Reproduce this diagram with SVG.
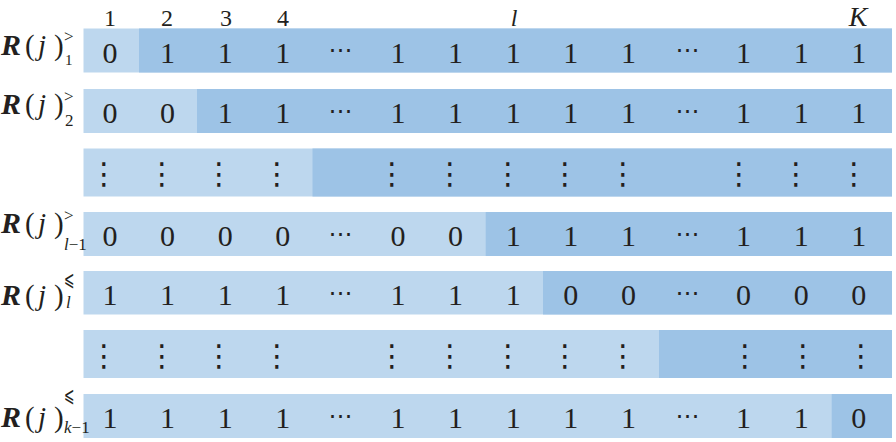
<svg xmlns="http://www.w3.org/2000/svg" width="896" height="442" viewBox="0 0 896 442">
<style>
.lt{fill:#bdd7ee}
.dk{fill:#9dc3e6}
.d{font-family:"Liberation Serif","DejaVu Serif",serif;font-size:30px;fill:#231f20;text-anchor:middle}
.h{font-family:"Liberation Serif","DejaVu Serif",serif;font-size:24px;fill:#231f20;text-anchor:middle}
.el{font-family:"DejaVu Sans",sans-serif;font-size:24px;fill:#231f20;text-anchor:middle}
.vd{font-family:"DejaVu Sans",sans-serif;font-size:30px;fill:#231f20;text-anchor:middle}
.lb{font-family:"Liberation Serif","DejaVu Serif",serif;font-size:29px;fill:#231f20}
.sp{font-family:"Liberation Serif","DejaVu Serif",serif;font-size:17px;fill:#231f20}
.le{font-family:"DejaVu Sans","DejaVu Serif",sans-serif;font-size:21px;fill:#231f20}
.i{font-style:italic}
.b{font-weight:bold;font-style:italic;font-size:30px}
</style>
<g id="header">
<text class="h" x="110" y="25.5">1</text>
<text class="h" x="167" y="25.5">2</text>
<text class="h" x="226" y="25.5">3</text>
<text class="h" x="283" y="25.5">4</text>
<text class="h i" x="514" y="25.5">l</text>
<text class="h i" x="858" y="25.5" style="font-size:28px">K</text>
</g>
<g id="row1">
<rect class="lt" x="83.5" y="28.5" width="808.5" height="44"/>
<rect class="dk" x="139" y="28.5" width="753" height="44"/>
<text class="lb" y="55"><tspan class="b" x="1">R</tspan><tspan x="25">(</tspan><tspan class="i" x="38">j</tspan><tspan x="54">)</tspan></text>
<text class="sp" x="64" y="42">&gt;</text>
<text class="sp" x="65" y="65" style="font-size:15px">1</text>
<text class="d" y="62.5"><tspan x="110">0</tspan><tspan x="167.6">1</tspan><tspan x="225.2">1</tspan><tspan x="282.8">1</tspan><tspan x="398">1</tspan><tspan x="455.6">1</tspan><tspan x="513.2">1</tspan><tspan x="570.8">1</tspan><tspan x="628.4">1</tspan><tspan x="743.6">1</tspan><tspan x="801.2">1</tspan><tspan x="858.8">1</tspan></text>
<text class="el" x="340.4" y="58">⋯</text>
<text class="el" x="687.5" y="58">⋯</text>
</g>
<g id="row2">
<rect class="lt" x="83.5" y="89" width="808.5" height="44"/>
<rect class="dk" x="197" y="89" width="695" height="44"/>
<text class="lb" y="113.5"><tspan class="b" x="1">R</tspan><tspan x="25">(</tspan><tspan class="i" x="38">j</tspan><tspan x="54">)</tspan></text>
<text class="sp" x="64" y="101.5">&gt;</text>
<text class="sp" x="65" y="126">2</text>
<text class="d" y="123"><tspan x="110">0</tspan><tspan x="167.6">0</tspan><tspan x="225.2">1</tspan><tspan x="282.8">1</tspan><tspan x="398">1</tspan><tspan x="455.6">1</tspan><tspan x="513.2">1</tspan><tspan x="570.8">1</tspan><tspan x="628.4">1</tspan><tspan x="743.6">1</tspan><tspan x="801.2">1</tspan><tspan x="858.8">1</tspan></text>
<text class="el" x="340.4" y="118.5">⋯</text>
<text class="el" x="687.5" y="118.5">⋯</text>
</g>
<g id="row3">
<rect class="lt" x="83.5" y="148.5" width="808.5" height="48"/>
<rect class="dk" x="312.5" y="148.5" width="579.5" height="48"/>
<text class="vd" y="184"><tspan x="104">⋮</tspan><tspan x="162">⋮</tspan><tspan x="219">⋮</tspan><tspan x="277">⋮</tspan><tspan x="392">⋮</tspan><tspan x="450">⋮</tspan><tspan x="508">⋮</tspan><tspan x="565">⋮</tspan><tspan x="623">⋮</tspan><tspan x="739">⋮</tspan><tspan x="796">⋮</tspan><tspan x="854">⋮</tspan></text>
</g>
<g id="row4">
<rect class="lt" x="83.5" y="212" width="808.5" height="44"/>
<rect class="dk" x="485.7" y="212" width="406.3" height="44"/>
<text class="lb" y="233"><tspan class="b" x="1">R</tspan><tspan x="25">(</tspan><tspan class="i" x="38">j</tspan><tspan x="54">)</tspan></text>
<text class="sp" x="64" y="221">&gt;</text>
<text class="sp" x="64" y="250"><tspan class="i">l</tspan>−1</text>
<text class="d" y="246"><tspan x="110">0</tspan><tspan x="167.6">0</tspan><tspan x="225.2">0</tspan><tspan x="282.8">0</tspan><tspan x="398">0</tspan><tspan x="455.6">0</tspan><tspan x="513.2">1</tspan><tspan x="570.8">1</tspan><tspan x="628.4">1</tspan><tspan x="743.6">1</tspan><tspan x="801.2">1</tspan><tspan x="858.8">1</tspan></text>
<text class="el" x="340.4" y="241.5">⋯</text>
<text class="el" x="687.5" y="241.5">⋯</text>
</g>
<g id="row5">
<rect class="lt" x="83.5" y="271" width="808.5" height="43.5"/>
<rect class="dk" x="543" y="271" width="349" height="43.5"/>
<text class="lb" y="305"><tspan class="b" x="1">R</tspan><tspan x="25">(</tspan><tspan class="i" x="38">j</tspan><tspan x="54">)</tspan></text>
<text class="le" transform="translate(64,286) scale(0.6,1)">⩽</text>
<text class="sp i" x="66" y="308">l</text>
<text class="d" y="305"><tspan x="110">1</tspan><tspan x="167.6">1</tspan><tspan x="225.2">1</tspan><tspan x="282.8">1</tspan><tspan x="398">1</tspan><tspan x="455.6">1</tspan><tspan x="513.2">1</tspan><tspan x="570.8">0</tspan><tspan x="628.4">0</tspan><tspan x="743.6">0</tspan><tspan x="801.2">0</tspan><tspan x="858.8">0</tspan></text>
<text class="el" x="340.4" y="300.5">⋯</text>
<text class="el" x="687.5" y="300.5">⋯</text>
</g>
<g id="row6">
<rect class="lt" x="83.5" y="330" width="808.5" height="48"/>
<rect class="dk" x="659" y="330" width="233" height="48"/>
<text class="vd" y="365.5"><tspan x="104">⋮</tspan><tspan x="162">⋮</tspan><tspan x="219">⋮</tspan><tspan x="277">⋮</tspan><tspan x="392">⋮</tspan><tspan x="450">⋮</tspan><tspan x="508">⋮</tspan><tspan x="565">⋮</tspan><tspan x="623">⋮</tspan><tspan x="745">⋮</tspan><tspan x="803">⋮</tspan><tspan x="861">⋮</tspan></text>
</g>
<g id="row7">
<rect class="lt" x="83.5" y="394" width="808.5" height="44"/>
<rect class="dk" x="831.7" y="394" width="60.3" height="44"/>
<text class="lb" y="427"><tspan class="b" x="1">R</tspan><tspan x="25">(</tspan><tspan class="i" x="38">j</tspan><tspan x="54">)</tspan></text>
<text class="le" transform="translate(64,402) scale(0.6,1)">⩽</text>
<text class="sp" x="64" y="433"><tspan class="i">k</tspan>−1</text>
<text class="d" y="428"><tspan x="110">1</tspan><tspan x="167.6">1</tspan><tspan x="225.2">1</tspan><tspan x="282.8">1</tspan><tspan x="398">1</tspan><tspan x="455.6">1</tspan><tspan x="513.2">1</tspan><tspan x="570.8">1</tspan><tspan x="628.4">1</tspan><tspan x="743.6">1</tspan><tspan x="801.2">1</tspan><tspan x="858.8">0</tspan></text>
<text class="el" x="340.4" y="423.5">⋯</text>
<text class="el" x="687.5" y="423.5">⋯</text>
</g>
</svg>
